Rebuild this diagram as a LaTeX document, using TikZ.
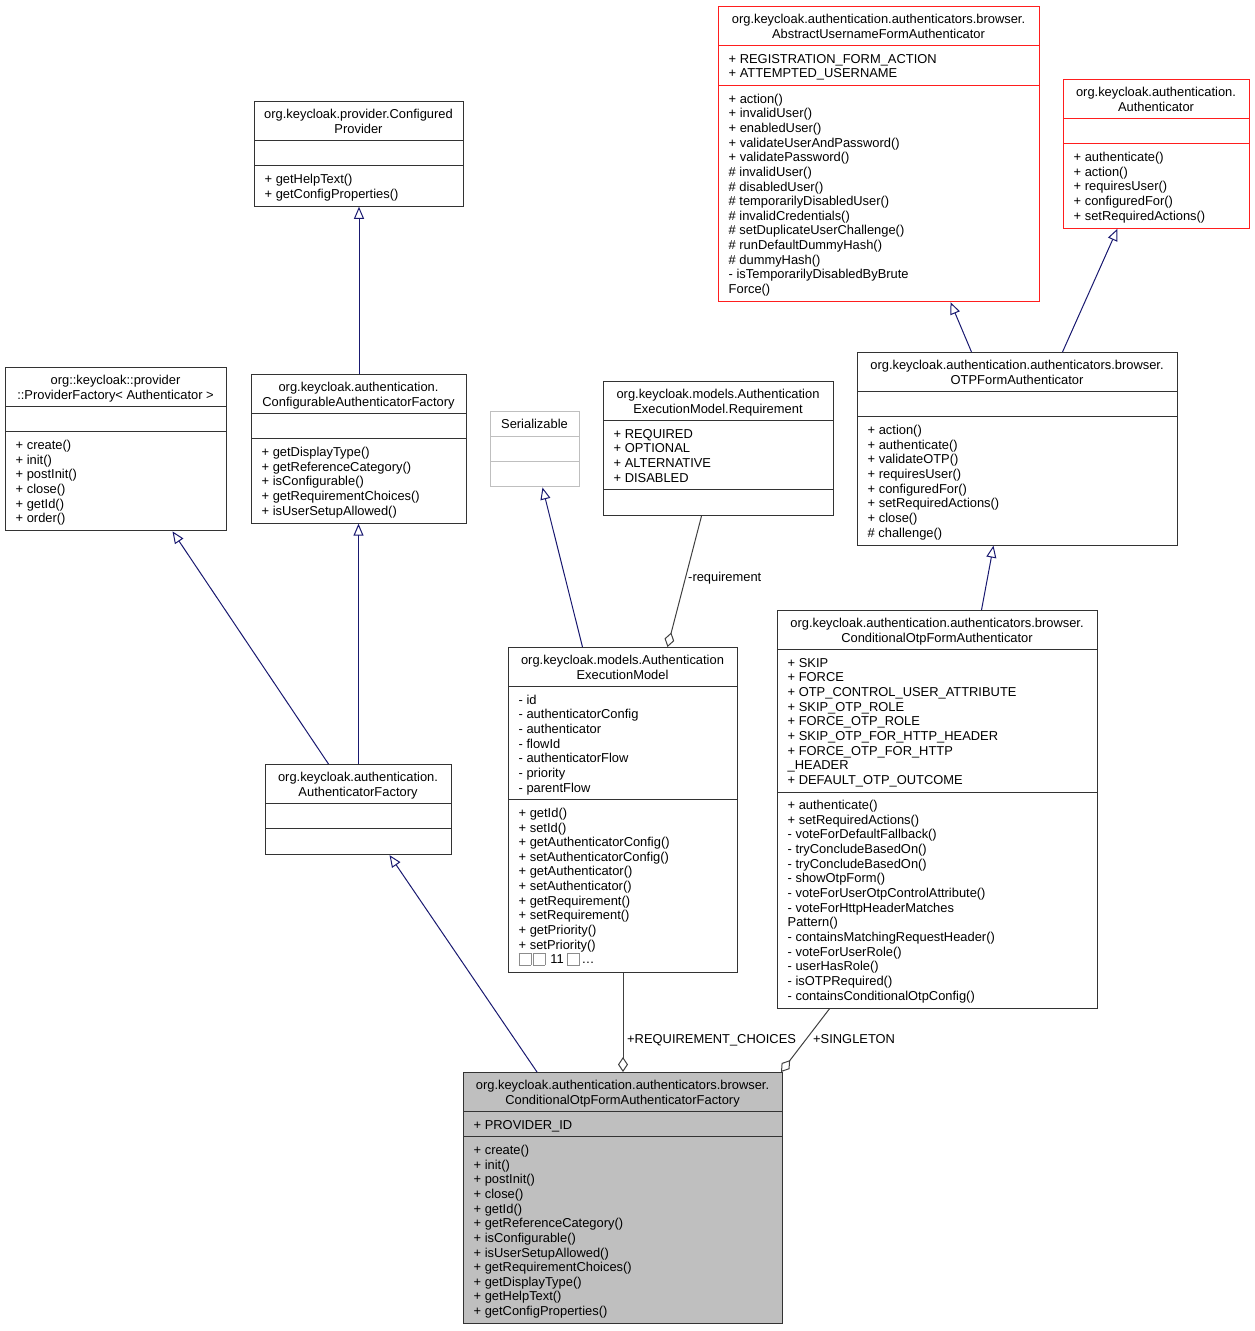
\documentclass[tikz,border=0pt]{standalone}
\usepackage{fontspec}
\setmainfont{Liberation Sans}
\usepackage{xcolor}
\usepackage{tikz}
\usetikzlibrary{arrows.meta}

\definecolor{edgeblue}{RGB}{25,25,112}
\definecolor{edgegrey}{RGB}{64,64,64}
\definecolor{boxred}{RGB}{255,30,30}
\newcommand{\classfont}{\fontsize{12.9}{15}\selectfont}
\newcommand{\sq}{\textcolor{black!45}{\fboxsep=0pt\fboxrule=0.8pt\fbox{\rule[-1pt]{0pt}{11pt}\hspace{11pt}}}\hspace{1.5pt}}

% #1 name, #2 style, #3 left, #4 top, #5 width, #6 title, #7 attributes, #8 operations
\newcommand{\umlclass}[8]{%
  \gdef\nt{1}\gdef\na{1}\gdef\nm{1}%
  \foreach \entry [count=\i] in {#6} {\xdef\nt{\i}}%
  \foreach \entry [count=\i] in {#7} {\xdef\na{\i}}%
  \foreach \entry [count=\i] in {#8} {\xdef\nm{\i}}%
  \pgfmathsetmacro\yb{#4+10.5+14.65*\nt}%
  \pgfmathsetmacro\yc{\yb+10.5+14.65*\na}%
  \pgfmathsetmacro\yd{\yc+10.5+14.65*\nm}%
  \pgfmathsetmacro\hh{\yd-#4}%
  \node[#2, minimum width=#5pt, minimum height=\hh pt] (#1) at (#3,#4) {};
  \draw[#2, fill=none] (#3,\yb) -- ++(#5,0) (#3,\yc) -- ++(#5,0);
  \foreach \entry [count=\i] in {#6} \node[ttl] (#1-t\i) at (#3+#5/2, #4+2.85+14.65*\i) {\entry};
  \foreach \entry [count=\i] in {#7} \node[mbr] (#1-a\i) at (#3+10.5, \yb+2.85+14.65*\i) {\entry};
  \foreach \entry [count=\i] in {#8} \node[mbr] (#1-m\i) at (#3+10.5, \yc+2.85+14.65*\i) {\entry};
}

\begin{document}
\begin{tikzpicture}[x=1pt, y=-1pt,
    cls/.style={draw=black!80, line width=1pt, anchor=north west, inner sep=0pt},
    clsred/.style={cls, draw=boxred},
    clsgrey/.style={cls, draw=black!25},
    clsfocus/.style={cls, fill=black!25},
    ttl/.style={anchor=base, inner sep=0pt, font=\classfont},
    mbr/.style={anchor=base west, inner sep=0pt, font=\classfont},
    lbl/.style={anchor=base west, inner sep=0pt, font=\classfont},
    inh/.style={draw=edgeblue, line width=1pt, -{Triangle[open, length=12pt, width=10pt]}},
    aggr/.style={draw=edgegrey, line width=1pt, {Diamond[open, length=15pt, width=10pt]}-}]
\useasboundingbox (0,0) rectangle (1254,1331);

\umlclass{cp}{cls}{254}{101}{209}{org.keycloak.provider.Configured,Provider}{}{+ getHelpText(), + getConfigProperties()}
\umlclass{pf}{cls}{5}{367}{221}{org::keycloak::provider,::ProviderFactory< Authenticator >}{}{+ create(), + init(), + postInit(), + close(), + getId(), + order()}
\umlclass{caf}{cls}{251}{374}{215}{org.keycloak.authentication.,ConfigurableAuthenticatorFactory}{}{+ getDisplayType(), + getReferenceCategory(), + isConfigurable(), + getRequirementChoices(), + isUserSetupAllowed()}
\umlclass{af}{cls}{265}{764}{186}{org.keycloak.authentication.,AuthenticatorFactory}{}{}
\umlclass{ser}{clsgrey}{490}{411}{89}{Serializable}{}{}
\umlclass{req}{cls}{603}{381}{230}{org.keycloak.models.Authentication,ExecutionModel.Requirement}{+ REQUIRED, + OPTIONAL, + ALTERNATIVE, + DISABLED}{}
\umlclass{aem}{cls}{508}{647}{229}{org.keycloak.models.Authentication,ExecutionModel}{- id, - authenticatorConfig, - authenticator, - flowId, - authenticatorFlow, - priority, - parentFlow}{+ getId(), + setId(), + getAuthenticatorConfig(), + setAuthenticatorConfig(), + getAuthenticator(), + setAuthenticator(), + getRequirement(), + setRequirement(), + getPriority(), + setPriority(), {\sq\sq{} 11 \sq\ldots}}
\umlclass{aufa}{clsred}{718}{6}{321}{org.keycloak.authentication.authenticators.browser.,AbstractUsernameFormAuthenticator}{+ REGISTRATION\_FORM\_ACTION, + ATTEMPTED\_USERNAME}{+ action(), + invalidUser(), + enabledUser(), + validateUserAndPassword(), + validatePassword(), \# invalidUser(), \# disabledUser(), \# temporarilyDisabledUser(), \# invalidCredentials(), \# setDuplicateUserChallenge(), \# runDefaultDummyHash(), \# dummyHash(), - isTemporarilyDisabledByBrute, Force()}
\umlclass{auth}{clsred}{1063}{79}{186}{org.keycloak.authentication.,Authenticator}{}{+ authenticate(), + action(), + requiresUser(), + configuredFor(), + setRequiredActions()}
\umlclass{otp}{cls}{857}{352}{320}{org.keycloak.authentication.authenticators.browser.,OTPFormAuthenticator}{}{+ action(), + authenticate(), + validateOTP(), + requiresUser(), + configuredFor(), + setRequiredActions(), + close(), \# challenge()}
\umlclass{cotp}{cls}{777}{610}{320}{org.keycloak.authentication.authenticators.browser.,ConditionalOtpFormAuthenticator}{+ SKIP, + FORCE, + OTP\_CONTROL\_USER\_ATTRIBUTE, + SKIP\_OTP\_ROLE, + FORCE\_OTP\_ROLE, + SKIP\_OTP\_FOR\_HTTP\_HEADER, + FORCE\_OTP\_FOR\_HTTP, \_HEADER, + DEFAULT\_OTP\_OUTCOME}{+ authenticate(), + setRequiredActions(), - voteForDefaultFallback(), - tryConcludeBasedOn(), - tryConcludeBasedOn(), - showOtpForm(), - voteForUserOtpControlAttribute(), - voteForHttpHeaderMatches, Pattern(), - containsMatchingRequestHeader(), - voteForUserRole(), - userHasRole(), - isOTPRequired(), - containsConditionalOtpConfig()}
\umlclass{cotpf}{clsfocus}{463}{1072}{319}{org.keycloak.authentication.authenticators.browser.,ConditionalOtpFormAuthenticatorFactory}{+ PROVIDER\_ID}{+ create(), + init(), + postInit(), + close(), + getId(), + getReferenceCategory(), + isConfigurable(), + isUserSetupAllowed(), + getRequirementChoices(), + getDisplayType(), + getHelpText(), + getConfigProperties()}

% inheritance
\draw[inh] ([xshift=-30]af.north) -- ([xshift=56.5]pf.south);
\draw[inh] (af.north) -- (af.north |- caf.south);
\draw[inh] (caf.north) -- (cp.south);
\draw[inh] ([xshift=-86]cotpf.north) -- ([xshift=31]af.south);
\draw[inh] ([xshift=-40.5]aem.north) -- ([xshift=7.5]ser.south);
\draw[inh] ([xshift=44]cotp.north) -- ([xshift=-24]otp.south);
\draw[inh] ([xshift=-46]otp.north) -- ([xshift=71.5]aufa.south);
\draw[inh] ([xshift=45]otp.north) -- ([xshift=-39]auth.south);

% aggregation
\draw[aggr] ([xshift=44.5]aem.north) -- ([xshift=-17]req.south);
\draw[aggr] (cotpf.north) -- (aem.south);
\draw[aggr] ([xshift=-2]cotpf.north east) -- ([xshift=-108]cotp.south);
\node[lbl] (lreq) at (688,581.5) {-requirement};
\node[lbl] (lchoices) at (627,1043.5) {+REQUIREMENT\_CHOICES};
\node[lbl] (lsingleton) at (813,1043.5) {+SINGLETON};
\end{tikzpicture}
\end{document}
